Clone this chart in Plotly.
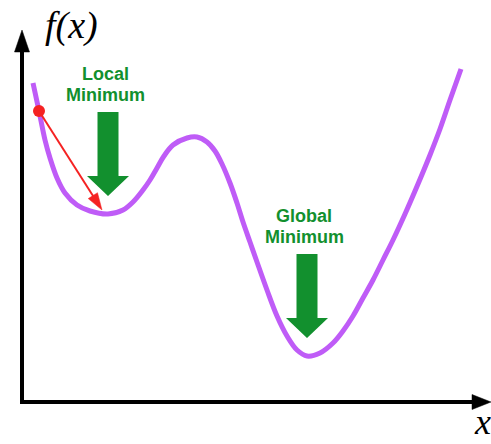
import numpy as np
import plotly.graph_objects as go

# ---- data (frame units: x to the right of the y axis, f(x) above the x axis) ----
x_vals = [11, 17, 23, 28, 35, 43, 55, 68, 86, 101, 111, 121, 128, 135, 142, 151, 165, 175,
          185, 193, 200, 208, 215, 221, 228, 235, 245, 255, 265, 275, 285, 298, 311, 321,
          331, 341, 351, 361, 371, 383, 396, 408, 418, 428, 439]
f_vals = [319, 291, 262, 244, 224, 209, 197, 191, 188, 192, 200, 212, 222, 234, 246, 257, 264, 265,
          260, 251, 238, 219, 199, 180, 160, 140, 112, 86, 66, 52, 46, 49, 59, 71,
          86, 104, 122, 142, 162, 188, 218, 247, 273, 302, 333]
start_x, start_f = [17], [291]          # red starting point
step_end = [80, 192]                    # where the gradient step lands
labels_local = ["Local", "Minimum"]
labels_global = ["Global", "Minimum"]

PURPLE = "#bf5cf7"
GREEN = "#12902e"
RED = "#f52222"

xa = np.array(x_vals, float)
fa = np.array(f_vals, float)
i_max = int(np.argmax(np.where((xa > 100) & (xa < 250), fa, -1)))
i_loc = int(np.argmin(fa[:i_max]))
i_glob = int(np.argmin(fa))
local_min = (xa[i_loc], fa[i_loc])
global_min = (xa[i_glob], fa[i_glob])

fig = go.Figure()
fig.add_trace(go.Scatter(x=x_vals, y=f_vals, mode="lines",
                         line=dict(color=PURPLE, width=5, shape="spline", smoothing=1.0),
                         hoverinfo="skip"))

shapes = []


def arrow(x0, y0, x1, y1, color, width, hl, hw):
    d = np.array([x1 - x0, y1 - y0], float)
    L = np.hypot(*d)
    u = d / L
    n = np.array([-u[1], u[0]])
    base = np.array([x1, y1]) - u * hl
    shapes.append(dict(type="line", x0=x0, y0=y0, x1=base[0] + u[0] * 1.0, y1=base[1] + u[1] * 1.0,
                       line=dict(color=color, width=width), xref="x", yref="y"))
    p1 = base + n * hw / 2
    p2 = base - n * hw / 2
    path = f"M{x1},{y1} L{p1[0]},{p1[1]} L{p2[0]},{p2[1]} Z"
    shapes.append(dict(type="path", path=path, fillcolor=color, line=dict(color=color, width=0.5),
                       xref="x", yref="y"))


# axes
arrow(0, -2, 0, 372, "black", 4, 22, 15)
arrow(-2, 0, 469, 0, "black", 4, 19, 15)
# gradient step
arrow(start_x[0], start_f[0], step_end[0], step_end[1], RED, 2, 17, 11)


def big_arrow(cx, cy):
    tip = cy + 18
    hb = cy + 38
    top = cy + 102
    sw, hw = 10.5, 21
    path = (f"M{cx},{tip} L{cx - hw},{hb} L{cx - sw},{hb} L{cx - sw},{top} "
            f"L{cx + sw},{top} L{cx + sw},{hb} L{cx + hw},{hb} Z")
    shapes.append(dict(type="path", path=path, fillcolor=GREEN, line=dict(width=0),
                       xref="x", yref="y"))


big_arrow(*local_min)
big_arrow(*global_min)

fig.add_trace(go.Scatter(x=start_x, y=start_f, mode="markers",
                         marker=dict(color=RED, size=12, line=dict(width=0)), hoverinfo="skip"))

ann = []
for (cx, cy), labs in ((local_min, labels_local), (global_min, labels_global)):
    for k, (t, off) in enumerate(zip(labs, (140, 119.5))):
        ann.append(dict(x=cx - 3, y=cy + off, text=t, showarrow=False, xanchor="center",
                        yanchor="middle",
                        font=dict(family="Liberation Sans, Arial", size=18, color=GREEN,
                                  weight="bold")))
ann.append(dict(x=49, y=377, text="f(x)", showarrow=False, xanchor="center", yanchor="middle",
                font=dict(family="Liberation Serif, Times New Roman", size=38, color="black",
                          style="italic")))
ann.append(dict(x=460, y=-42, text="x", showarrow=False, xanchor="center", yanchor="bottom",
                font=dict(family="Liberation Serif, Times New Roman", size=36, color="black",
                          style="italic")))

fig.update_layout(
    width=491, height=444, margin=dict(l=0, r=0, t=0, b=0),
    paper_bgcolor="white", plot_bgcolor="white", showlegend=False,
    shapes=shapes, annotations=ann,
    xaxis=dict(range=[-22, 469], visible=False, showgrid=False, zeroline=False, fixedrange=True),
    yaxis=dict(range=[-42, 402], visible=False, showgrid=False, zeroline=False, fixedrange=True),
)
fig.write_html("out.html", post_script="document.body.style.margin='0';",
               config={"displayModeBar": False})
